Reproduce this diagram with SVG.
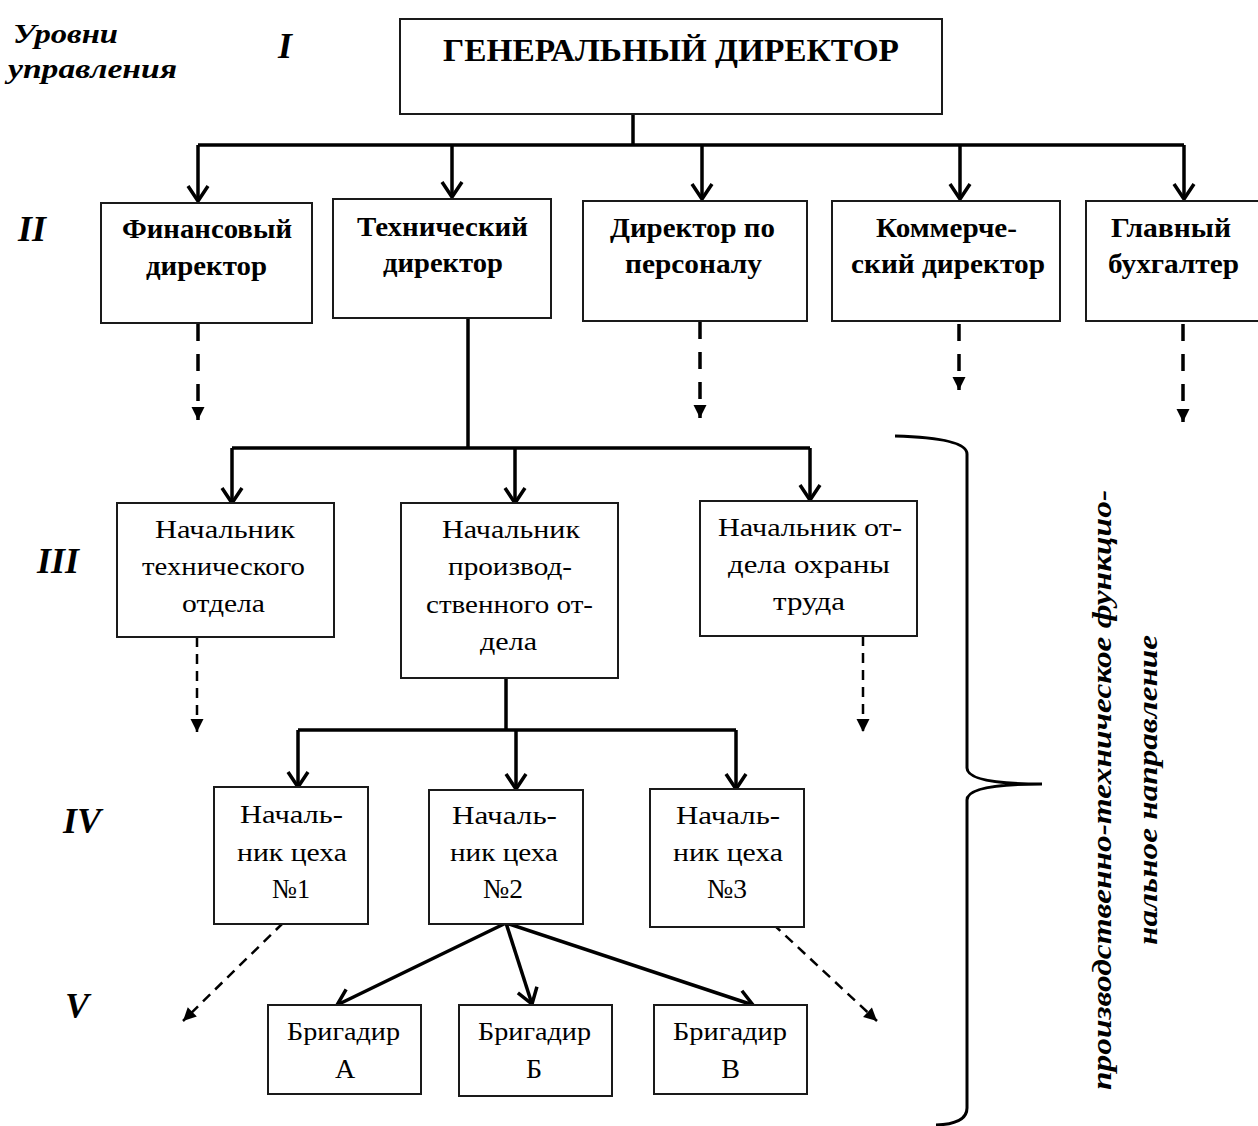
<svg xmlns="http://www.w3.org/2000/svg" width="1258" height="1126" viewBox="0 0 1258 1126">
<style>
.box{fill:#fff;stroke:#1a1a1a;stroke-width:2}
.t{font-family:"Liberation Serif","Times New Roman",serif;fill:#000;text-anchor:middle}
.b{font-weight:bold;font-size:27px}
.r{font-size:25px}
.big{font-size:28px}
.title{font-weight:bold;font-size:32px}
.lv{font-family:"Liberation Serif","Times New Roman",serif;font-weight:bold;font-style:italic;fill:#000}
.solid{fill:none;stroke:#000;stroke-width:3.5;marker-end:url(#chev)}
.line{fill:none;stroke:#000;stroke-width:3.5}
.dash1{fill:none;stroke:#000;stroke-width:3.5;stroke-dasharray:17 13;marker-end:url(#tri)}
.dash2{fill:none;stroke:#000;stroke-width:2.5;stroke-dasharray:10 7;marker-end:url(#tri)}
</style>
<defs>
<marker id="chev" markerUnits="userSpaceOnUse" viewBox="-18 -12 22 24" markerWidth="22" markerHeight="24" refX="0" refY="0" orient="auto">
<path d="M-15,-10 L0,0 L-15,10" fill="none" stroke="#000" stroke-width="3.5" stroke-linejoin="miter"/>
</marker>
<marker id="tri" markerUnits="userSpaceOnUse" viewBox="-14 -8 16 16" markerWidth="16" markerHeight="16" refX="0" refY="0" orient="auto">
<path d="M-13,-6.5 L0,0 L-13,6.5 Z" fill="#000"/>
</marker>
</defs>
<rect width="1258" height="1126" fill="#fff"/>

<g id="level-labels">
<text class="lv" x="13" y="43" font-size="28" textLength="105" lengthAdjust="spacingAndGlyphs">Уровни</text>
<text class="lv" x="8" y="78" font-size="28" textLength="169" lengthAdjust="spacingAndGlyphs">управления</text>
<text class="lv" x="278" y="58" font-size="36">I</text>
<text class="lv" x="18" y="241" font-size="36">II</text>
<text class="lv" x="37" y="573" font-size="36">III</text>
<text class="lv" x="63" y="833" font-size="36">IV</text>
<text class="lv" x="65" y="1018" font-size="36">V</text>
</g>

<g id="connectors">
<path class="line" d="M633,114 V145"/>
<path class="line" d="M198,145 H1184"/>
<path class="solid" d="M198,145 V201"/>
<path class="solid" d="M452,145 V197"/>
<path class="solid" d="M702,145 V199"/>
<path class="solid" d="M960,145 V199"/>
<path class="solid" d="M1184,145 V199"/>
<path class="dash1" d="M198,324 V420"/>
<path class="dash1" d="M700,322 V418"/>
<path class="dash1" d="M959,324 V390"/>
<path class="dash1" d="M1183,324 V422"/>
<path class="line" d="M468,318 V448"/>
<path class="line" d="M232,448 H810"/>
<path class="solid" d="M232,448 V503"/>
<path class="solid" d="M515,448 V503"/>
<path class="solid" d="M810,448 V500"/>
<path class="dash2" d="M197,637 V732"/>
<path class="dash2" d="M863,636 V732"/>
<path class="line" d="M506,678 V730"/>
<path class="line" d="M298,730 H736"/>
<path class="solid" d="M298,730 V787"/>
<path class="solid" d="M516,730 V789"/>
<path class="solid" d="M736,730 V789"/>
<path class="solid" d="M506,923 L337,1005"/>
<path class="solid" d="M506,923 L532,1004"/>
<path class="solid" d="M506,923 L753,1005"/>
<path class="dash2" d="M283,923 L183,1021"/>
<path class="dash2" d="M773,924 L877,1021"/>
</g>

<g id="brace">
<path d="M895,436 Q967,438 967,454 L967,768 Q967,784 1042,784 Q967,784 967,800 L967,1108 Q967,1124 936,1125" fill="none" stroke="#000" stroke-width="3"/>
</g>

<g id="n-gendir">
<rect class="box" x="400" y="19" width="542" height="95" stroke-width="2.5"/>
<text class="t title" x="671" y="61" textLength="456" lengthAdjust="spacingAndGlyphs">ГЕНЕРАЛЬНЫЙ ДИРЕКТОР</text>
</g>

<g id="n-fin">
<rect class="box" x="101" y="203" width="211" height="120"/>
<text class="t b" x="207" y="238" textLength="170" lengthAdjust="spacingAndGlyphs">Финансовый</text>
<text class="t b" x="206.5" y="275" textLength="121" lengthAdjust="spacingAndGlyphs">директор</text>
</g>
<g id="n-tech">
<rect class="box" x="333" y="199" width="218" height="119"/>
<text class="t b" x="442.5" y="236" textLength="171" lengthAdjust="spacingAndGlyphs">Технический</text>
<text class="t b" x="443" y="272" textLength="120" lengthAdjust="spacingAndGlyphs">директор</text>
</g>
<g id="n-pers">
<rect class="box" x="583" y="201" width="224" height="120"/>
<text class="t b" x="692.5" y="237" textLength="165" lengthAdjust="spacingAndGlyphs">Директор по</text>
<text class="t b" x="693.5" y="273" textLength="137" lengthAdjust="spacingAndGlyphs">персоналу</text>
</g>
<g id="n-comm">
<rect class="box" x="832" y="201" width="228" height="120"/>
<text class="t b" x="946.5" y="237" textLength="141" lengthAdjust="spacingAndGlyphs">Коммерче-</text>
<text class="t b" x="948" y="273" textLength="194" lengthAdjust="spacingAndGlyphs">ский директор</text>
</g>
<g id="n-acc">
<rect class="box" x="1086" y="201" width="174" height="120"/>
<text class="t b" x="1171" y="237" textLength="120" lengthAdjust="spacingAndGlyphs">Главный</text>
<text class="t b" x="1173.5" y="273" textLength="131" lengthAdjust="spacingAndGlyphs">бухгалтер</text>
</g>

<g id="n-techdept">
<rect class="box" x="117" y="503" width="217" height="134"/>
<text class="t r" x="225" y="538" textLength="140" lengthAdjust="spacingAndGlyphs">Начальник</text>
<text class="t r" x="223.5" y="575" textLength="163" lengthAdjust="spacingAndGlyphs">технического</text>
<text class="t r" x="223.5" y="612" textLength="83" lengthAdjust="spacingAndGlyphs">отдела</text>
</g>
<g id="n-proddept">
<rect class="box" x="401" y="503" width="217" height="175"/>
<text class="t r" x="511" y="538" textLength="138" lengthAdjust="spacingAndGlyphs">Начальник</text>
<text class="t r" x="510" y="575" textLength="124" lengthAdjust="spacingAndGlyphs">производ-</text>
<text class="t r" x="509.5" y="613" textLength="167" lengthAdjust="spacingAndGlyphs">ственного от-</text>
<text class="t r" x="508.5" y="650" textLength="57" lengthAdjust="spacingAndGlyphs">дела</text>
</g>
<g id="n-safety">
<rect class="box" x="700" y="501" width="217" height="135"/>
<text class="t r" x="810" y="536" textLength="184" lengthAdjust="spacingAndGlyphs">Начальник от-</text>
<text class="t r" x="809" y="573" textLength="162" lengthAdjust="spacingAndGlyphs">дела охраны</text>
<text class="t r" x="809" y="610" textLength="72" lengthAdjust="spacingAndGlyphs">труда</text>
</g>

<g id="n-shop1">
<rect class="box" x="214" y="787" width="154" height="137"/>
<text class="t r" x="291.5" y="823" textLength="103" lengthAdjust="spacingAndGlyphs">Началь-</text>
<text class="t r" x="292" y="861" textLength="110" lengthAdjust="spacingAndGlyphs">ник цеха</text>
<text class="t big" x="291" y="898" textLength="38" lengthAdjust="spacingAndGlyphs">№1</text>
</g>
<g id="n-shop2">
<rect class="box" x="429" y="790" width="154" height="134"/>
<text class="t r" x="504.5" y="824" textLength="105" lengthAdjust="spacingAndGlyphs">Началь-</text>
<text class="t r" x="504" y="861" textLength="108" lengthAdjust="spacingAndGlyphs">ник цеха</text>
<text class="t big" x="503" y="898" textLength="40" lengthAdjust="spacingAndGlyphs">№2</text>
</g>
<g id="n-shop3">
<rect class="box" x="650" y="789" width="154" height="138"/>
<text class="t r" x="728" y="824" textLength="104" lengthAdjust="spacingAndGlyphs">Началь-</text>
<text class="t r" x="728" y="861" textLength="110" lengthAdjust="spacingAndGlyphs">ник цеха</text>
<text class="t big" x="727" y="898" textLength="40" lengthAdjust="spacingAndGlyphs">№3</text>
</g>

<g id="n-brigA">
<rect class="box" x="268" y="1005" width="153" height="89"/>
<text class="t r" x="343.5" y="1040" textLength="113" lengthAdjust="spacingAndGlyphs">Бригадир</text>
<text class="t big" x="345" y="1078">А</text>
</g>
<g id="n-brigB">
<rect class="box" x="459" y="1005" width="153" height="91"/>
<text class="t r" x="534.5" y="1040" textLength="113" lengthAdjust="spacingAndGlyphs">Бригадир</text>
<text class="t big" x="534" y="1078">Б</text>
</g>
<g id="n-brigV">
<rect class="box" x="654" y="1005" width="153" height="89"/>
<text class="t r" x="730" y="1040" textLength="114" lengthAdjust="spacingAndGlyphs">Бригадир</text>
<text class="t big" x="730.5" y="1078">В</text>
</g>

<g id="side-label">
<text class="lv" text-anchor="middle" font-size="27" transform="translate(1111,790) rotate(-90)" textLength="600" lengthAdjust="spacingAndGlyphs">производственно-техническое функцио-</text>
<text class="lv" text-anchor="middle" font-size="27" transform="translate(1157,790) rotate(-90)" textLength="310" lengthAdjust="spacingAndGlyphs">нальное направление</text>
</g>
</svg>
